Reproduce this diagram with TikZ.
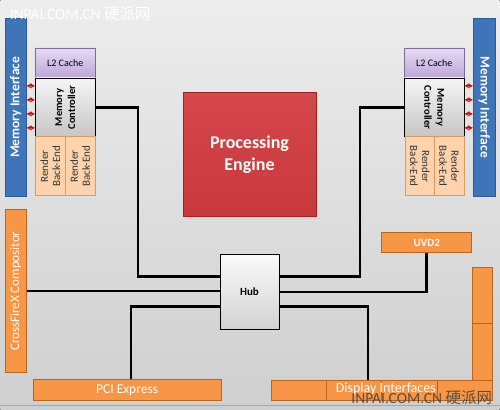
\documentclass[tikz,border=0pt]{standalone}
\usepackage{fontspec}
\setmainfont{Carlito}
\newfontfamily\cjk{Noto Sans CJK SC}
\usepackage{tikz}

\definecolor{memblue}{HTML}{3F74B9}
\definecolor{memblueD}{HTML}{2B5A96}
\definecolor{lilacT}{HTML}{E6DCF2}
\definecolor{lilacB}{HTML}{BCA6D9}
\definecolor{lilacD}{HTML}{7F6A9E}
\definecolor{peach}{HTML}{FCD3AC}
\definecolor{peachD}{HTML}{DC9A62}
\definecolor{peRed}{HTML}{C9383C}
\definecolor{peRedT}{HTML}{D4474A}
\definecolor{peRedD}{HTML}{9C2226}
\definecolor{orng}{HTML}{F79646}
\definecolor{orngD}{HTML}{B9651F}
\definecolor{bgT}{HTML}{EDEDED}
\definecolor{bgB}{HTML}{CFCFCF}

\begin{document}
\begin{tikzpicture}[x=1pt,y=-1pt,
		box/.style={draw,rectangle,inner sep=1pt,line width=0.8pt,align=center},
		memif/.style={box,draw=memblueD,fill=memblue,text=white,font=\bfseries\fontsize{13.5}{14}\selectfont,minimum width=179,minimum height=21},
		lcache/.style={box,draw=lilacD,top color=lilacT,bottom color=lilacB,font=\fontsize{10}{11}\selectfont,minimum width=60,minimum height=30},
		memctl/.style={box,draw=black,top color=gray!8,bottom color=gray!45,font=\bfseries\fontsize{10.5}{13}\selectfont,minimum width=59,minimum height=60},
		rbe/.style={box,draw=peachD,fill=peach,text=black!80,font=\fontsize{11}{12}\selectfont,minimum width=59,minimum height=30},
		orbox/.style={box,draw=orngD,fill=orng,text=white},
		link/.style={line width=2.6pt,black},
		marr/.style={<->,>=stealth,red!85!black,line width=1.1pt}]
	\fill[top color=bgT,bottom color=bgB] (0,0) rectangle (500,410);
	\draw[gray!70,line width=0.6pt] (0,406) -- (500,406);
	\useasboundingbox (0,0) rectangle (500,410);
	\node[memif,rotate=90] (memL) at (15.5,107.5) {Memory Interface};
	\node[memif,rotate=-90,minimum height=22] (memR) at (484.5,107.5) {Memory Interface};
	\node[lcache] (l2L) at (65,63) {L2 Cache};
	\node[lcache] (l2R) at (434.5,63) {L2 Cache};
	\node[memctl,rotate=90] (mcL) at (65,107.5) {Memory\\Controller};
	\node[memctl,rotate=-90] (mcR) at (434.5,107.5) {Memory\\Controller};
	\node[rbe,rotate=90] (rbL1) at (50,166.5) {Render\\Back-End};
	\node[rbe,rotate=90] (rbL2) at (80,166.5) {Render\\Back-End};
	\node[rbe,rotate=-90,minimum height=29.5] (rbR1) at (420,166.5) {Render\\Back-End};
	\node[rbe,rotate=-90,minimum height=29.5] (rbR2) at (449.5,166.5) {Render\\Back-End};
	\node[box,draw=peRedD,top color=peRedT,bottom color=peRed,text=white,font=\bfseries\fontsize{18}{22}\selectfont,minimum width=133,minimum height=124] (pe) at (249.5,155) {Processing\\Engine};
	\node[box,draw=black,top color=gray!4,bottom color=gray!35,font=\bfseries\fontsize{11}{12}\selectfont,minimum width=59,minimum height=75] (hub) at (249.5,292.5) {Hub};
	\node[orbox,rotate=90,font=\fontsize{13}{14}\selectfont,minimum width=163,minimum height=21] (cfx) at (15.5,291.5) {CrossFireX Compositor};
	\node[orbox,font=\fontsize{13.5}{14}\selectfont,minimum width=188,minimum height=21] (pci) at (127,390.5) {PCI Express};
	\node[orbox,font=\bfseries\fontsize{11}{12}\selectfont,minimum width=90,minimum height=20] (uvd) at (427,243) {UVD2};
	\node[orbox,minimum width=56,minimum height=20] (di1) at (299,391) {};
	\node[orbox,minimum width=55.5,minimum height=20] (di2) at (354.5,391) {};
	\node[orbox,minimum width=56,minimum height=20] (di3) at (410,391) {};
	\node[orbox,minimum width=55,minimum height=20] (di4) at (465.5,391) {};
	\node[orbox,minimum width=20,minimum height=56] (di5) at (483,296) {};
	\node[orbox,minimum width=20,minimum height=57] (di6) at (483,352.5) {};
	\node[text=white,font=\fontsize{14}{15}\selectfont] (dil) at (386,389) {Display Interfaces};
	\coordinate (jL) at (138,277);
	\coordinate (jR) at (360,277);
	\coordinate (jP) at (131,307);
	\coordinate (jD) at (368,307);
	\draw[link] (mcL.south) -| (jL) -- (jL -| hub.west);
	\draw[link] (mcR.south) -| (jR) -- (jR -| hub.east);
	\draw[link] (cfx.south) -- (cfx.south -| hub.west);
	\draw[link] (jP -| hub.west) -| (jP |- pci.north);
	\draw[link] (hub.east) -| (uvd.south);
	\draw[link] (jD -| hub.east) -| (jD |- di2.north);
	\foreach \y in {86,100,114,128} {
		\draw[marr] (memL.south |- 0,\y) -- (mcL.north |- 0,\y);
		\draw[marr] (memR.south |- 0,\y) -- (mcR.north |- 0,\y);
	}
	\node[text=white,font=\fontsize{15.5}{16}\selectfont,anchor=west] (wmT) at (6,14) {INPAI.COM.CN {\cjk 硬派网}};
	\node[text=black!75,opacity=0.85,font=\fontsize{15.5}{16}\selectfont,anchor=west] (wmB) at (348,398) {INPAI.COM.CN {\cjk 硬派网}};
\end{tikzpicture}
\end{document}
